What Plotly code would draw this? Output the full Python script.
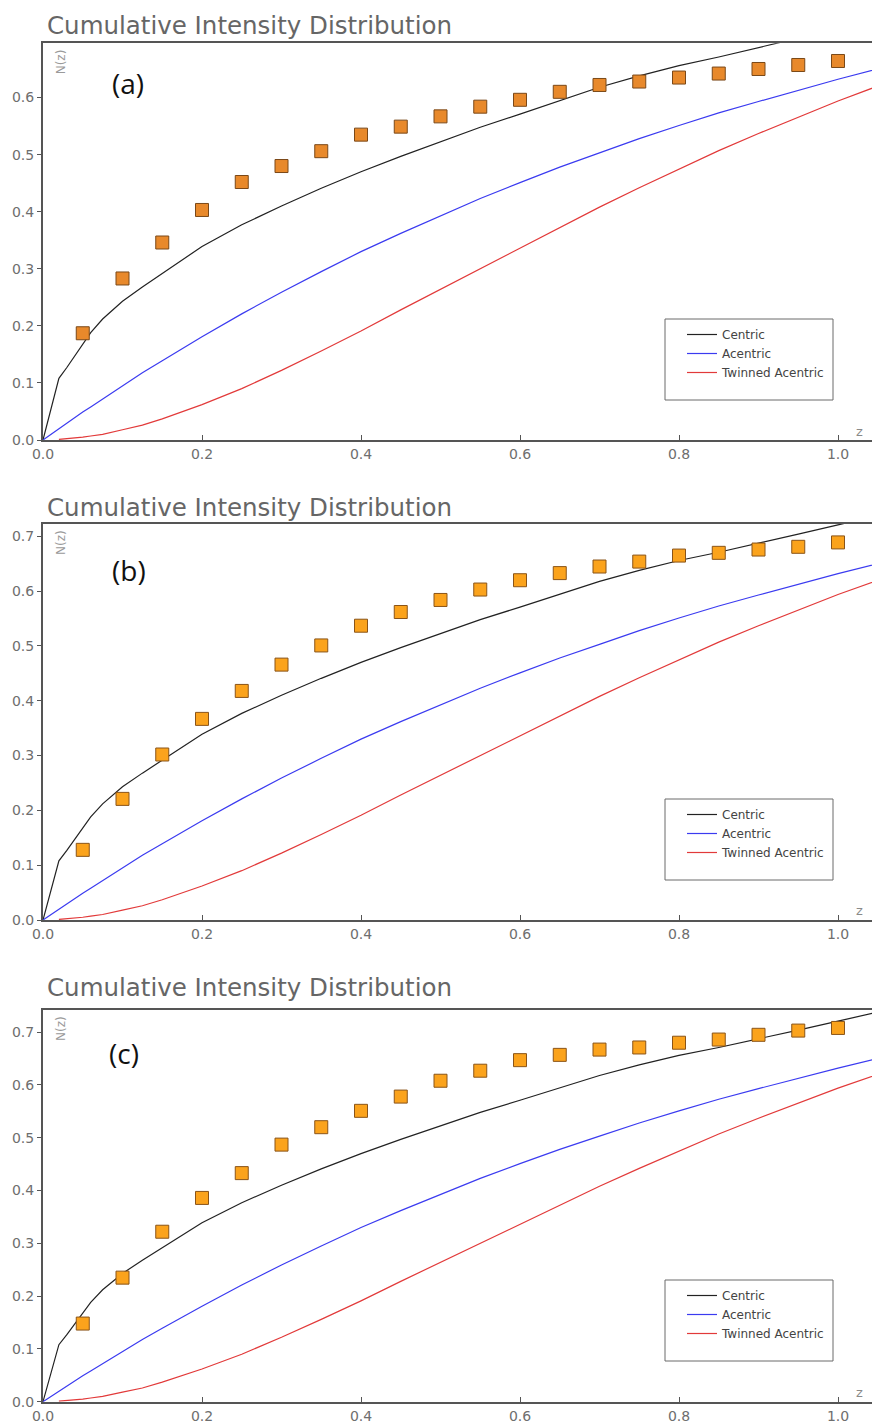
import plotly.graph_objects as go

# ---------------- data ----------------
z_obs = [0.05, 0.10, 0.15, 0.20, 0.25, 0.30, 0.35, 0.40, 0.45, 0.50,
         0.55, 0.60, 0.65, 0.70, 0.75, 0.80, 0.85, 0.90, 0.95, 1.00]
obs_a = [0.187, 0.283, 0.346, 0.403, 0.452, 0.480, 0.506, 0.535, 0.549, 0.567,
         0.584, 0.596, 0.610, 0.622, 0.628, 0.635, 0.642, 0.650, 0.657, 0.664]
obs_b = [0.128, 0.221, 0.302, 0.367, 0.418, 0.466, 0.501, 0.537, 0.562, 0.584,
         0.603, 0.620, 0.633, 0.645, 0.654, 0.665, 0.670, 0.676, 0.681, 0.689]
obs_c = [0.148, 0.235, 0.322, 0.386, 0.433, 0.487, 0.520, 0.551, 0.578, 0.608,
         0.627, 0.647, 0.657, 0.667, 0.671, 0.680, 0.686, 0.695, 0.703, 0.708]

z_curve = [0.0, 0.02, 0.03, 0.04, 0.05, 0.06, 0.075, 0.10, 0.125, 0.15, 0.20, 0.25, 0.30,
           0.35, 0.40, 0.45, 0.50, 0.55, 0.60, 0.65, 0.70, 0.75, 0.80, 0.85, 0.90,
           0.95, 1.00, 1.05]
centric = [0.0, 0.108, 0.127, 0.148, 0.169, 0.188, 0.212, 0.243, 0.268, 0.292, 0.339, 0.377,
           0.410, 0.441, 0.470, 0.497, 0.523, 0.548, 0.571, 0.595, 0.618, 0.638, 0.656,
           0.671, 0.687, 0.704, 0.721, 0.738]
acentric = [0.0, 0.020, 0.030, 0.039, 0.049, 0.058, 0.072, 0.095, 0.118, 0.139, 0.181, 0.221,
            0.259, 0.295, 0.330, 0.362, 0.393, 0.423, 0.451, 0.478, 0.503, 0.528, 0.551,
            0.573, 0.593, 0.613, 0.632, 0.650]
twinned = [None, 0.001, 0.002, 0.003, 0.005, 0.007, 0.010, 0.018, 0.026, 0.037, 0.062, 0.090,
           0.122, 0.156, 0.191, 0.228, 0.264, 0.301, 0.337, 0.373, 0.408, 0.442, 0.475,
           0.507, 0.537, 0.566, 0.594, 0.620]

panel_labels = ["(a)", "(b)", "(c)"]
title_text = "Cumulative Intensity Distribution"
legend_names = ["Centric", "Acentric", "Twinned Acentric"]
x_ticks = [0.0, 0.2, 0.4, 0.6, 0.8, 1.0]

# ---------------- layout geometry (pixels) ----------------
W, H = 872, 1428
ML = 43
PW = W - ML


def px(xp):
    return (xp - ML) / PW


def py(yp):
    return 1 - yp / H


panels = [
    dict(obs=obs_a, top=43.3, bottom=440.0, ymax=0.695, title_y=25, lab=(128, 83),
         fill="#E8892B", edge="#7A4818", leg_top=319, leg_bot=400),
    dict(obs=obs_b, top=524.0, bottom=920.0, ymax=0.7226, title_y=507, lab=(129, 570),
         fill="#FBA31C", edge="#8A5418", leg_top=799, leg_bot=880),
    dict(obs=obs_c, top=1010.0, bottom=1401.7, ymax=0.742, title_y=987, lab=(124, 1053),
         fill="#FBA31C", edge="#8A5418", leg_top=1280, leg_bot=1361),
]

line_colors = ["#222222", "#3b3bf0", "#e23a3a"]
curves = [centric, acentric, twinned]

fig = go.Figure()
annotations = []
shapes = []
layout = {}

for i, p in enumerate(panels):
    sfx = "" if i == 0 else str(i + 1)
    xa = "x" + sfx
    ya = "y" + sfx
    leg = "legend" + sfx
    for name, col, vals in zip(legend_names, line_colors, curves):
        fig.add_trace(go.Scatter(
            x=z_curve, y=vals, mode="lines", name=name,
            line=dict(color=col, width=1.2), xaxis=xa, yaxis=ya,
            legend=leg, showlegend=True, connectgaps=False))
    fig.add_trace(go.Scatter(
        x=z_obs, y=p["obs"], mode="markers", showlegend=False,
        marker=dict(symbol="square", size=13, color=p["fill"],
                    line=dict(color=p["edge"], width=1)),
        xaxis=xa, yaxis=ya))

    axis_font = dict(family="DejaVu Sans", size=14, color="#6e6e6e")
    layout["xaxis" + sfx] = dict(
        domain=[0, 1], anchor=ya, range=[0, PW / 795.0], automargin=False,
        tickvals=x_ticks, ticktext=["%.1f" % t for t in x_ticks],
        ticks="inside", ticklen=5, tickcolor="#555", tickwidth=1,
        showline=True, linecolor="#555", linewidth=2, mirror=True,
        showgrid=False, zeroline=False, tickfont=axis_font)
    layout["yaxis" + sfx] = dict(
        domain=[py(p["bottom"]), py(p["top"])], anchor=xa, automargin=False,
        range=[0, p["ymax"]], dtick=0.1, tickformat=".1f",
        ticks="outside", ticklen=4, tickcolor="#555", tickwidth=1,
        showline=True, linecolor="#555", linewidth=2,
        showgrid=False, zeroline=False, tickfont=axis_font)

    # legend placement
    layout[leg] = dict(
        x=px(682), y=py(p["leg_top"] + 1), xanchor="left", yanchor="top",
        bgcolor="rgba(0,0,0,0)", borderwidth=0, tracegroupgap=0,
        font=dict(family="DejaVu Sans", size=12, color="#444"))
    shapes.append(dict(type="rect", xref="paper", yref="paper",
                       x0=px(665), x1=px(833), y0=py(p["leg_bot"]), y1=py(p["leg_top"]),
                       line=dict(color="#6a6a6a", width=1), fillcolor="rgba(0,0,0,0)"))

    # titles and labels
    annotations.append(dict(text=title_text, xref="paper", yref="paper",
                            x=px(45), y=py(p["title_y"]), xanchor="left", yanchor="middle",
                            showarrow=False,
                            font=dict(family="DejaVu Sans", size=24.5, color="#666666")))
    annotations.append(dict(text=panel_labels[i], xref="paper", yref="paper",
                            x=px(p["lab"][0]), y=py(p["lab"][1]), xanchor="center",
                            yanchor="middle", showarrow=False,
                            font=dict(family="Open Sans", size=28, color="#111111")))
    annotations.append(dict(text="N(z)", xref="paper", yref="paper", textangle=-90,
                            x=px(61), y=py(p["top"] + 19), xanchor="center",
                            yanchor="middle", showarrow=False,
                            font=dict(family="DejaVu Sans", size=12, color="#9a9a9a")))
    annotations.append(dict(text="z", xref="paper", yref="paper",
                            x=px(859), y=py(p["bottom"] - 9), xanchor="center",
                            yanchor="middle", showarrow=False,
                            font=dict(family="DejaVu Sans", size=13, color="#8a8a8a")))

fig.update_layout(
    width=W, height=H,
    margin=dict(l=ML, r=0, t=0, b=0, autoexpand=False),
    paper_bgcolor="white", plot_bgcolor="white",
    annotations=annotations, shapes=shapes,
    **layout)

fig.write_html("out.html",
               config={"displayModeBar": False},
               post_script="document.body.style.margin='0px';"
                           "document.body.style.overflow='hidden';")
